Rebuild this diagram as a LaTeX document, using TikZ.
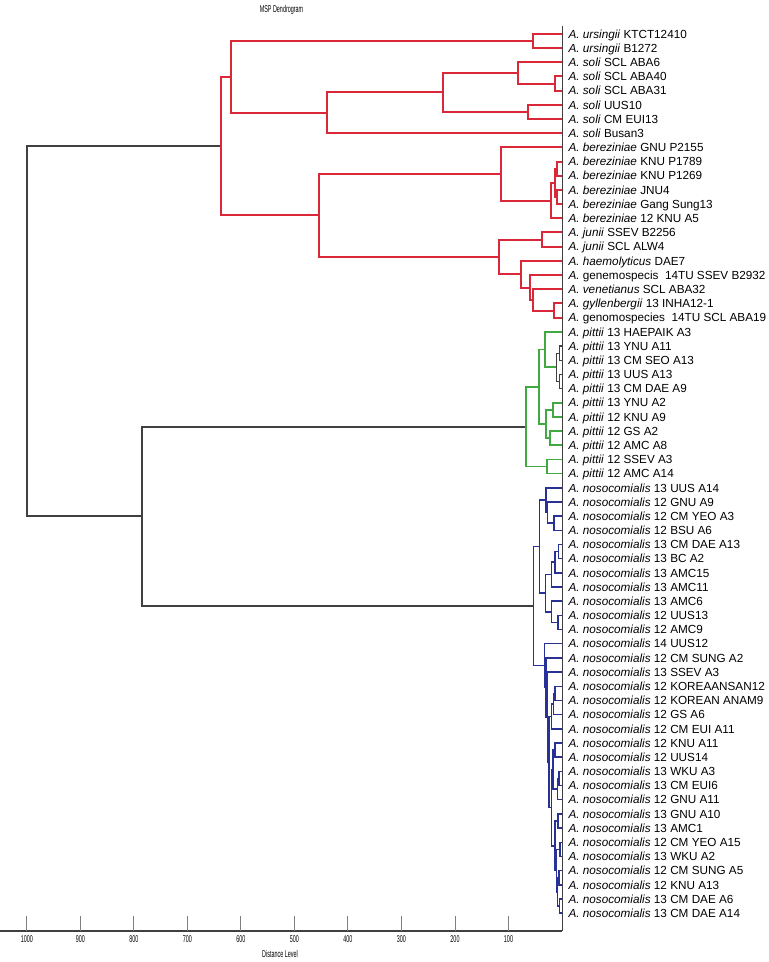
\documentclass[tikz,border=0pt]{standalone}
\usepackage{fontspec}
\setmainfont{Liberation Sans}
\newfontfamily\narrowfont[FakeStretch=0.55]{Liberation Sans}
\definecolor{dendred}{RGB}{218,40,56}
\definecolor{dendgreen}{RGB}{64,170,64}
\definecolor{dendblue}{RGB}{40,50,150}
\definecolor{dendgray}{RGB}{64,64,64}
\newcommand{\Anos}{\textit{A. nosocomialis}}
\newcommand{\Apit}{\textit{A. pittii}}

\begin{document}
\begin{tikzpicture}[x=0.75pt,y=-0.75pt,
  leaf/.style={anchor=west,inner xsep=4.9pt,inner ysep=0pt,outer sep=0pt,text height=6.3pt,text depth=0pt,font=\fontsize{8.8}{10}\selectfont},
  redbr/.style={draw=dendred,line width=1.5pt},
  greenbr/.style={draw=dendgreen,line width=1.3pt},
  bluebr/.style={draw=dendblue,line width=1.1pt},
  blackbr/.style={draw=dendgray,line width=1.5pt},
  axislab/.style={font=\narrowfont\fontsize{7.4}{8}\selectfont,inner sep=0pt}]
  \useasboundingbox (0,0) rectangle (768,962);
  % leaves
  \node[leaf] (t0) at (562,34.0) {\textit{A. ursingii} KTCT12410};
  \node[leaf] (t1) at (562,48.2) {\textit{A. ursingii} B1272};
  \node[leaf] (t2) at (562,62.4) {\textit{A. soli} SCL ABA6};
  \node[leaf] (t3) at (562,76.5) {\textit{A. soli} SCL ABA40};
  \node[leaf] (t4) at (562,90.7) {\textit{A. soli} SCL ABA31};
  \node[leaf] (t5) at (562,104.9) {\textit{A. soli} UUS10};
  \node[leaf] (t6) at (562,119.1) {\textit{A. soli} CM EUI13};
  \node[leaf] (t7) at (562,133.3) {\textit{A. soli} Busan3};
  \node[leaf] (t8) at (562,147.4) {\textit{A. bereziniae} GNU P2155};
  \node[leaf] (t9) at (562,161.6) {\textit{A. bereziniae} KNU P1789};
  \node[leaf] (t10) at (562,175.8) {\textit{A. bereziniae} KNU P1269};
  \node[leaf] (t11) at (562,190.0) {\textit{A. bereziniae} JNU4};
  \node[leaf] (t12) at (562,204.2) {\textit{A. bereziniae} Gang Sung13};
  \node[leaf] (t13) at (562,218.3) {\textit{A. bereziniae} 12 KNU A5};
  \node[leaf] (t14) at (562,232.5) {\textit{A. junii} SSEV B2256};
  \node[leaf] (t15) at (562,246.7) {\textit{A. junii} SCL ALW4};
  \node[leaf] (t16) at (562,260.9) {\textit{A. haemolyticus} DAE7};
  \node[leaf] (t17) at (562,275.1) {\textit{A.} genemospecis\ \ 14TU SSEV B2932};
  \node[leaf] (t18) at (562,289.2) {\textit{A. venetianus} SCL ABA32};
  \node[leaf] (t19) at (562,303.4) {\textit{A. gyllenbergii} 13 INHA12-1};
  \node[leaf] (t20) at (562,317.6) {\textit{A.} genomospecies\ \ 14TU SCL ABA19};
  \node[leaf] (t21) at (562,331.8) {\Apit{} 13 HAEPAIK A3};
  \node[leaf] (t22) at (562,346.0) {\Apit{} 13 YNU A11};
  \node[leaf] (t23) at (562,360.1) {\Apit{} 13 CM SEO A13};
  \node[leaf] (t24) at (562,374.3) {\Apit{} 13 UUS A13};
  \node[leaf] (t25) at (562,388.5) {\Apit{} 13 CM DAE A9};
  \node[leaf] (t26) at (562,402.7) {\Apit{} 13 YNU A2};
  \node[leaf] (t27) at (562,416.9) {\Apit{} 12 KNU A9};
  \node[leaf] (t28) at (562,431.0) {\Apit{} 12 GS A2};
  \node[leaf] (t29) at (562,445.2) {\Apit{} 12 AMC A8};
  \node[leaf] (t30) at (562,459.4) {\Apit{} 12 SSEV A3};
  \node[leaf] (t31) at (562,473.6) {\Apit{} 12 AMC A14};
  \node[leaf] (t32) at (562,487.8) {\Anos{} 13 UUS A14};
  \node[leaf] (t33) at (562,501.9) {\Anos{} 12 GNU A9};
  \node[leaf] (t34) at (562,516.1) {\Anos{} 12 CM YEO A3};
  \node[leaf] (t35) at (562,530.3) {\Anos{} 12 BSU A6};
  \node[leaf] (t36) at (562,544.5) {\Anos{} 13 CM DAE A13};
  \node[leaf] (t37) at (562,558.7) {\Anos{} 13 BC A2};
  \node[leaf] (t38) at (562,572.8) {\Anos{} 13 AMC15};
  \node[leaf] (t39) at (562,587.0) {\Anos{} 13 AMC11};
  \node[leaf] (t40) at (562,601.2) {\Anos{} 13 AMC6};
  \node[leaf] (t41) at (562,615.4) {\Anos{} 12 UUS13};
  \node[leaf] (t42) at (562,629.6) {\Anos{} 12 AMC9};
  \node[leaf] (t43) at (562,643.7) {\Anos{} 14 UUS12};
  \node[leaf] (t44) at (562,657.9) {\Anos{} 12 CM SUNG A2};
  \node[leaf] (t45) at (562,672.1) {\Anos{} 13 SSEV A3};
  \node[leaf] (t46) at (562,686.3) {\Anos{} 12 KOREAANSAN12};
  \node[leaf] (t47) at (562,700.5) {\Anos{} 12 KOREAN ANAM9};
  \node[leaf] (t48) at (562,714.6) {\Anos{} 12 GS A6};
  \node[leaf] (t49) at (562,728.8) {\Anos{} 12 CM EUI A11};
  \node[leaf] (t50) at (562,743.0) {\Anos{} 12 KNU A11};
  \node[leaf] (t51) at (562,757.2) {\Anos{} 12 UUS14};
  \node[leaf] (t52) at (562,771.4) {\Anos{} 13 WKU A3};
  \node[leaf] (t53) at (562,785.5) {\Anos{} 13 CM EUI6};
  \node[leaf] (t54) at (562,799.7) {\Anos{} 12 GNU A11};
  \node[leaf] (t55) at (562,813.9) {\Anos{} 13 GNU A10};
  \node[leaf] (t56) at (562,828.1) {\Anos{} 13 AMC1};
  \node[leaf] (t57) at (562,842.3) {\Anos{} 12 CM YEO A15};
  \node[leaf] (t58) at (562,856.4) {\Anos{} 13 WKU A2};
  \node[leaf] (t59) at (562,870.6) {\Anos{} 12 CM SUNG A5};
  \node[leaf] (t60) at (562,884.8) {\Anos{} 12 KNU A13};
  \node[leaf] (t61) at (562,899.0) {\Anos{} 13 CM DAE A6};
  \node[leaf] (t62) at (562,913.2) {\Anos{} 13 CM DAE A14};
  % merge points, x = distance level in px
  \coordinate (u1) at (533.3,41.1);
  \coordinate (s1) at (555.0,83.6);
  \coordinate (s2) at (518.3,73.0);
  \coordinate (s3) at (528.3,112.0);
  \coordinate (s4) at (443.3,92.5);
  \coordinate (s5) at (327.3,112.9);
  \coordinate (r1) at (231.0,77.0);
  \coordinate (b1) at (557.0,168.7);
  \coordinate (b2) at (556.7,197.1);
  \coordinate (b3) at (555.0,182.9);
  \coordinate (b4) at (550.7,200.6);
  \coordinate (b5) at (501.0,174.0);
  \coordinate (j1) at (541.7,239.6);
  \coordinate (g1) at (554.3,310.5);
  \coordinate (v1) at (533.3,299.9);
  \coordinate (h1) at (529.7,287.5);
  \coordinate (h2) at (520.7,274.2);
  \coordinate (j2) at (499.3,256.9);
  \coordinate (b6) at (319.3,215.5);
  \coordinate (rr) at (220.7,146.2);
  \coordinate (p1) at (559.5,353.1);
  \coordinate (p2) at (559.5,381.4);
  \coordinate (p3) at (556.7,367.2);
  \coordinate (p4) at (545.3,349.5);
  \coordinate (p5) at (552.7,409.8);
  \coordinate (p6) at (550.0,438.1);
  \coordinate (p7) at (546.0,424.0);
  \coordinate (p8) at (539.0,386.8);
  \coordinate (p9) at (547.3,466.5);
  \coordinate (gg) at (525.7,426.6);
  \coordinate (n1) at (554.0,523.2);
  \coordinate (n2) at (547.3,512.6);
  \coordinate (n3) at (546.0,500.2);
  \coordinate (e1) at (558.3,551.6);
  \coordinate (e2) at (555.0,562.2);
  \coordinate (e3) at (551.7,574.6);
  \coordinate (f1) at (558.0,622.5);
  \coordinate (f2) at (551.7,611.9);
  \coordinate (d1) at (545.7,593.2);
  \coordinate (c1) at (539.3,546.7);
  \coordinate (m1) at (555.0,693.4);
  \coordinate (m2) at (553.5,704.0);
  \coordinate (m3) at (551.5,716.4);
  \coordinate (q1) at (555.0,750.1);
  \coordinate (q2) at (559.0,778.5);
  \coordinate (q3) at (557.5,789.1);
  \coordinate (q4) at (553.0,769.6);
  \coordinate (w1) at (558.0,821.0);
  \coordinate (w2) at (560.0,849.4);
  \coordinate (w3) at (559.0,877.7);
  \coordinate (w4) at (559.5,906.1);
  \coordinate (w5) at (557.5,891.9);
  \coordinate (w6) at (556.5,870.7);
  \coordinate (w7) at (555.0,845.8);
  \coordinate (k1) at (551.5,807.7);
  \coordinate (k2) at (549.0,762.1);
  \coordinate (k3) at (547.5,717.1);
  \coordinate (k4) at (546.0,687.5);
  \coordinate (k5) at (544.3,665.6);
  \coordinate (bb) at (533.3,606.2);
  \coordinate (kk) at (142.0,516.4);
  \coordinate (root) at (26.7,331.3);
  % black trunk
  \draw[blackbr] (root) |- (rr) (root) |- (kk);
  \draw[blackbr] (kk) |- (gg) (kk) |- (bb);
  % red cluster
  \draw[redbr] (rr) |- (r1) (rr) |- (b6);
  \draw[redbr] (r1) |- (u1) (r1) |- (s5);
  \draw[redbr] (u1) |- (t0.west) (u1) |- (t1.west);
  \draw[redbr] (s5) |- (s4) (s5) |- (t7.west);
  \draw[redbr] (s4) |- (s2) (s4) |- (s3);
  \draw[redbr] (s2) |- (t2.west) (s2) |- (s1);
  \draw[redbr] (s1) |- (t3.west) (s1) |- (t4.west);
  \draw[redbr] (s3) |- (t5.west) (s3) |- (t6.west);
  \draw[redbr] (b6) |- (b5) (b6) |- (j2);
  \draw[redbr] (b5) |- (t8.west) (b5) |- (b4);
  \draw[redbr] (b4) |- (b3) (b4) |- (t13.west);
  \draw[redbr] (b3) |- (b1) (b3) |- (b2);
  \draw[redbr] (b1) |- (t9.west) (b1) |- (t10.west);
  \draw[redbr] (b2) |- (t11.west) (b2) |- (t12.west);
  \draw[redbr] (j2) |- (j1) (j2) |- (h2);
  \draw[redbr] (j1) |- (t14.west) (j1) |- (t15.west);
  \draw[redbr] (h2) |- (t16.west) (h2) |- (h1);
  \draw[redbr] (h1) |- (t17.west) (h1) |- (v1);
  \draw[redbr] (v1) |- (t18.west) (v1) |- (g1);
  \draw[redbr] (g1) |- (t19.west) (g1) |- (t20.west);
  % green cluster
  \draw[greenbr] (gg) |- (p8) (gg) |- (p9);
  \draw[greenbr] (p8) |- (p4) (p8) |- (p7);
  \draw[greenbr] (p4) |- (t21.west) (p4) |- (p3);
  \draw[blackbr,line width=0.9pt] (p3) |- (p1) (p3) |- (p2);
  \draw[blackbr,line width=0.9pt] (p1) |- (t22.west) (p1) |- (t23.west);
  \draw[blackbr,line width=0.9pt] (p2) |- (t24.west) (p2) |- (t25.west);
  \draw[greenbr] (p7) |- (p5) (p7) |- (p6);
  \draw[greenbr] (p5) |- (t26.west) (p5) |- (t27.west);
  \draw[greenbr] (p6) |- (t28.west) (p6) |- (t29.west);
  \draw[greenbr] (p9) |- (t30.west) (p9) |- (t31.west);
  % blue cluster
  \draw[bluebr] (bb) |- (c1) (bb) |- (k5);
  \draw[bluebr] (c1) |- (n3) (c1) |- (d1);
  \draw[bluebr] (n3) |- (t32.west) (n3) |- (n2);
  \draw[bluebr] (n2) |- (t33.west) (n2) |- (n1);
  \draw[bluebr] (n1) |- (t34.west) (n1) |- (t35.west);
  \draw[bluebr] (d1) |- (e3) (d1) |- (f2);
  \draw[bluebr] (e3) |- (e2) (e3) |- (t39.west);
  \draw[bluebr] (e2) |- (e1) (e2) |- (t38.west);
  \draw[bluebr] (e1) |- (t36.west) (e1) |- (t37.west);
  \draw[bluebr] (f2) |- (t40.west) (f2) |- (f1);
  \draw[bluebr] (f1) |- (t41.west) (f1) |- (t42.west);
  \draw[bluebr] (k5) |- (t43.west) (k5) |- (k4);
  \draw[bluebr] (k4) |- (t44.west) (k4) |- (k3);
  \draw[bluebr] (k3) |- (t45.west) (k3) |- (k2);
  \draw[bluebr] (k2) |- (m3) (k2) |- (k1);
  \draw[bluebr] (m3) |- (m2) (m3) |- (t49.west);
  \draw[bluebr] (m2) |- (m1) (m2) |- (t48.west);
  \draw[bluebr] (m1) |- (t46.west) (m1) |- (t47.west);
  \draw[bluebr] (k1) |- (q4) (k1) |- (w7);
  \draw[bluebr] (q4) |- (q1) (q4) |- (q3);
  \draw[bluebr] (q1) |- (t50.west) (q1) |- (t51.west);
  \draw[bluebr] (q3) |- (q2) (q3) |- (t54.west);
  \draw[bluebr] (q2) |- (t52.west) (q2) |- (t53.west);
  \draw[bluebr] (w7) |- (w1) (w7) |- (w6);
  \draw[bluebr] (w1) |- (t55.west) (w1) |- (t56.west);
  \draw[bluebr] (w6) |- (w2) (w6) |- (w5);
  \draw[bluebr] (w2) |- (t57.west) (w2) |- (t58.west);
  \draw[bluebr] (w5) |- (w3) (w5) |- (w4);
  \draw[bluebr] (w3) |- (t59.west) (w3) |- (t60.west);
  \draw[bluebr] (w4) |- (t61.west) (w4) |- (t62.west);
  % axis
  \draw[dendgray,line width=0.75pt] (562,26) -- (562,931);
  \draw[dendgray,line width=1.1pt] (0,931) -- (562,931);
  \draw[gray,line width=0.75pt] (26.8,916) -- (26.8,931) (80.3,916) -- (80.3,931)
    (133.8,916) -- (133.8,931) (187.4,916) -- (187.4,931) (240.9,916) -- (240.9,931)
    (294.4,916) -- (294.4,931) (347.9,916) -- (347.9,931) (401.4,916) -- (401.4,931)
    (455.0,916) -- (455.0,931) (508.5,916) -- (508.5,931);
  \node[axislab] (d1000) at (26.8,938.6) {1000};
  \node[axislab] (d900) at (80.3,938.6) {900};
  \node[axislab] (d800) at (133.8,938.6) {800};
  \node[axislab] (d700) at (187.4,938.6) {700};
  \node[axislab] (d600) at (240.9,938.6) {600};
  \node[axislab] (d500) at (294.4,938.6) {500};
  \node[axislab] (d400) at (347.9,938.6) {400};
  \node[axislab] (d300) at (401.4,938.6) {300};
  \node[axislab] (d200) at (455.0,938.6) {200};
  \node[axislab] (d100) at (508.5,938.6) {100};
  \node[axislab] (xlabel) at (280,953.6) {Distance Level};
  \node[axislab,anchor=base] (title) at (281.5,12.2) {MSP Dendrogram};
\end{tikzpicture}
\end{document}
